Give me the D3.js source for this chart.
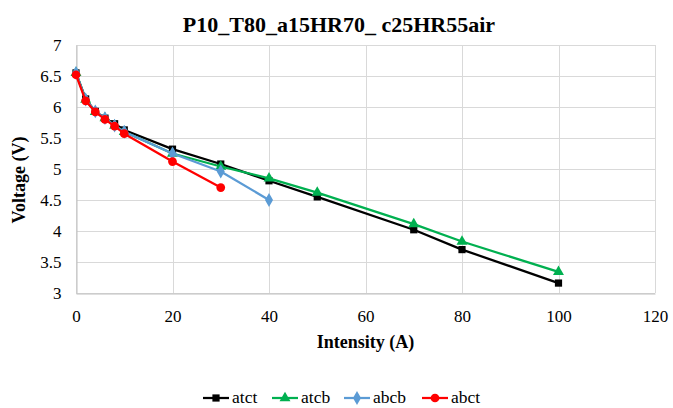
<!DOCTYPE html>
<html>
<head>
<meta charset="utf-8">
<script src="https://cdn.jsdelivr.net/npm/d3@7"></script>
<style>
  html, body { margin: 0; padding: 0; background: #fff; }
  svg { display: block; font-family: "Liberation Serif", "Times New Roman", serif; }
  svg text { font-family: "Liberation Serif", "Times New Roman", serif; }
</style>
</head>
<body>
<svg id="chart" width="673" height="408"></svg>
<script>
const title = "P10_T80_a15HR70_ c25HR55air";
const xLabel = "Intensity (A)";
const yLabel = "Voltage (V)";
const xTicks = [0, 20, 40, 60, 80, 100, 120];
const yTicks = [3, 3.5, 4, 4.5, 5, 5.5, 6, 6.5, 7];

const seriesNames = ["atct", "atcb", "abcb", "abct"];
const atctX = [0, 2, 4, 6, 8, 10, 20, 30, 40, 50, 70, 80, 100];
const atctY = [6.55, 6.13, 5.93, 5.82, 5.73, 5.63, 5.32, 5.08, 4.81, 4.55, 4.02, 3.70, 3.16];
const atcbX = [0, 2, 4, 6, 8, 10, 20, 30, 40, 50, 70, 80, 100];
const atcbY = [6.55, 6.12, 5.92, 5.82, 5.70, 5.60, 5.25, 5.04, 4.85, 4.62, 4.11, 3.83, 3.34];
const abcbX = [0, 2, 4, 6, 8, 10, 20, 30, 40];
const abcbY = [6.55, 6.12, 5.93, 5.82, 5.70, 5.60, 5.25, 4.96, 4.50];
const abctX = [0, 2, 4, 6, 8, 10, 20, 30];
const abctY = [6.52, 6.10, 5.92, 5.80, 5.69, 5.57, 5.12, 4.70];

const colors = { atct: "#000000", atcb: "#00b050", abcb: "#5b9bd5", abct: "#ff0000" };
const symbols = { atct: d3.symbolSquare, atcb: d3.symbolTriangle, abcb: d3.symbolDiamond, abct: d3.symbolCircle };
const symSize = { atct: 52, atcb: 52, abcb: 56, abct: 60 };

const data = {
  atct: atctX.map((x, i) => ({ x, y: atctY[i] })),
  atcb: atcbX.map((x, i) => ({ x, y: atcbY[i] })),
  abcb: abcbX.map((x, i) => ({ x, y: abcbY[i] })),
  abct: abctX.map((x, i) => ({ x, y: abctY[i] }))
};

const svg = d3.select("#chart");
const pL = 76, pR = 655, pT = 45, pB = 293;

const x = d3.scaleLinear().domain([0, 120]).range([pL, pR]);
const y = d3.scaleLinear().domain([3, 7]).range([pB, pT]);

// gridlines
svg.append("g").selectAll("line").data(yTicks).join("line")
  .attr("x1", pL).attr("x2", pR)
  .attr("y1", d => Math.round(y(d)) + 0.5).attr("y2", d => Math.round(y(d)) + 0.5)
  .attr("stroke", "#d9d9d9").attr("stroke-width", 1);
svg.append("g").selectAll("line").data(xTicks).join("line")
  .attr("y1", pT).attr("y2", pB)
  .attr("x1", d => Math.round(x(d)) + 0.5).attr("x2", d => Math.round(x(d)) + 0.5)
  .attr("stroke", "#d9d9d9").attr("stroke-width", 1);

// axes
const xAxis = d3.axisBottom(x).tickValues(xTicks).tickSize(0).tickPadding(16);
const gx = svg.append("g").attr("transform", `translate(0,${Math.round(pB) + 0.5})`).call(xAxis);
gx.attr("font-family", null).attr("font-size", null);
gx.select(".domain").attr("stroke", "#bfbfbf");
gx.selectAll("text").style("font-size", "17px").attr("fill", "#000");

const yAxis = d3.axisLeft(y).tickValues(yTicks).tickSize(0).tickPadding(15).tickFormat(d3.format("~g"));
const gy = svg.append("g").attr("transform", `translate(${pL + 0.5},0)`).call(yAxis);
gy.attr("font-family", null).attr("font-size", null);
gy.select(".domain").attr("stroke", "#bfbfbf");
gy.selectAll("text").style("font-size", "17px").attr("fill", "#000");

// series
const line = d3.line().x(d => x(d.x)).y(d => y(d.y));
seriesNames.forEach(name => {
  const g = svg.append("g");
  g.append("path").datum(data[name]).attr("d", line)
    .attr("fill", "none").attr("stroke", colors[name]).attr("stroke-width", 2.25)
    .attr("stroke-linejoin", "round");
  g.selectAll("path.m").data(data[name]).join("path")
    .attr("class", "m")
    .attr("transform", d => `translate(${x(d.x)},${y(d.y)})`)
    .attr("d", d3.symbol().type(symbols[name]).size(symSize[name]))
    .attr("fill", colors[name]);
});

// title
svg.append("text").attr("x", 339).attr("y", 32).attr("text-anchor", "middle")
  .attr("font-size", 22).attr("font-weight", "bold").text(title);

// axis labels
svg.append("text").attr("x", (pL + pR) / 2).attr("y", 348).attr("text-anchor", "middle")
  .attr("font-size", 18).attr("font-weight", "bold").text(xLabel);
svg.append("text").attr("transform", `translate(25,180) rotate(-90)`)
  .attr("text-anchor", "middle").attr("font-size", 18).attr("font-weight", "bold").text(yLabel);

// legend
const legendX = [203, 272, 344, 422];
const ly = 398;
seriesNames.forEach((name, i) => {
  const g = svg.append("g").attr("transform", `translate(${legendX[i]},${ly})`);
  g.append("line").attr("x1", 0).attr("x2", 26).attr("y1", 0).attr("y2", 0)
    .attr("stroke", colors[name]).attr("stroke-width", 2.25);
  g.append("path").attr("transform", "translate(13,0)")
    .attr("d", d3.symbol().type(symbols[name]).size(symSize[name])).attr("fill", colors[name]);
  g.append("text").attr("x", 29).attr("y", 5).attr("font-size", 17.5).text(name);
});
</script>
</body>
</html>
